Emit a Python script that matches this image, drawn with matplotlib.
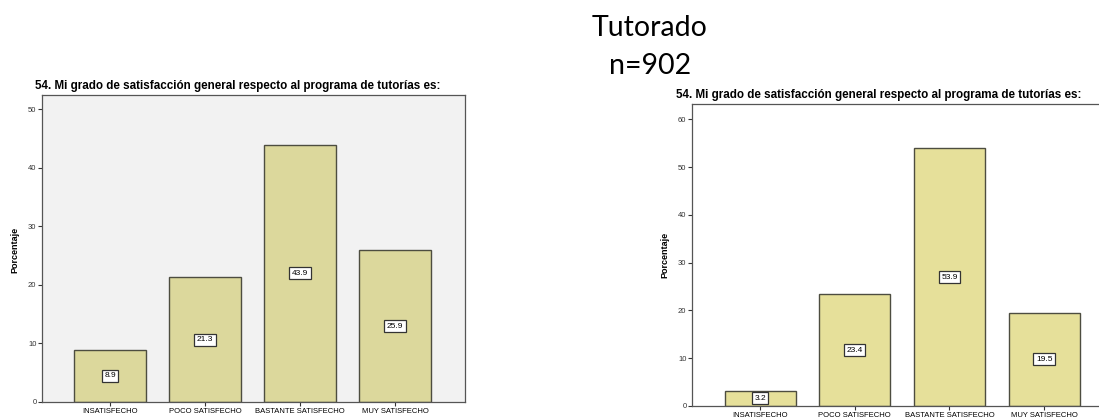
import matplotlib
matplotlib.use("Agg")
import matplotlib.pyplot as plt

categories = ["INSATISFECHO", "POCO SATISFECHO", "BASTANTE SATISFECHO", "MUY SATISFECHO"]
left_values = [8.9, 21.3, 43.9, 25.9]
right_values = [3.2, 23.4, 53.9, 19.5]
left_ticks = [0, 10, 20, 30, 40, 50]
right_ticks = [0, 10, 20, 30, 40, 50, 60]
chart_title = "54. Mi grado de satisfacción general respecto al programa de tutorías es:"
ylabel = "Porcentaje"

W, H = 1099, 420
fig = plt.figure(figsize=(W / 100, H / 100), dpi=100)
fig.patch.set_facecolor("white")

def px_axes(x0, y0, x1, y1):
    return fig.add_axes([x0 / W, 1 - y1 / H, (x1 - x0) / W, (y1 - y0) / H])

def draw(ax, values, ticks, ylim, xlim, face, barcolor, frame_all):
    x = list(range(len(categories)))
    ax.set_facecolor(face)
    ax.bar(x, values, width=0.75, color=barcolor, edgecolor="#4d4d40", linewidth=1.0, zorder=2)
    for xi, v in zip(x, values):
        ax.text(xi, v / 2, f"{v:.1f}", ha="center", va="center", fontsize=6,
                family="Liberation Sans", zorder=3,
                bbox=dict(boxstyle="square,pad=0.3", fc="white", ec="#333333", lw=0.9))
    ax.set_xlim(*xlim)
    ax.set_ylim(*ylim)
    ax.set_yticks(ticks)
    ax.set_yticklabels([str(t) for t in ticks], fontsize=5.5, family="Liberation Sans", color="#333333")
    ax.set_xticks(x)
    ax.set_xticklabels(categories, fontsize=5.5, family="Liberation Sans")
    ax.tick_params(axis="both", length=3, width=0.8, pad=1, color="#333333")
    for s in ax.spines.values():
        s.set_color("#555555")
        s.set_linewidth(0.9)
    if not frame_all:
        ax.spines["right"].set_visible(False)

# Left chart
axL = px_axes(42, 95, 465, 402)
draw(axL, left_values, left_ticks, (0, 52.4), (-0.716, 3.737), "#f2f2f2", "#dcd89c", True)
fig.text(35 / W, 1 - 86 / H, chart_title, fontsize=8.4, fontweight="bold",
         family="Liberation Sans", ha="left", va="center")
fig.text(15 / W, 1 - 250 / H, ylabel, fontsize=6.5, fontweight="bold", rotation=90,
         family="Liberation Sans", ha="center", va="center")

# Right chart
axR = px_axes(692, 104, 1099, 406)
draw(axR, right_values, right_ticks, (0, 63.2), (-0.72, 3.58), "white", "#e6e09a", False)
fig.text(676 / W, 1 - 95 / H, chart_title, fontsize=8.4, fontweight="bold",
         family="Liberation Sans", ha="left", va="center")
fig.text(665 / W, 1 - 255 / H, ylabel, fontsize=6.5, fontweight="bold", rotation=90,
         family="Liberation Sans", ha="center", va="center")

# Header
fig.text(650 / W, 1 - 28 / H, "Tutorado", fontsize=20.5, family="Lato", ha="center", va="center")
fig.text(650 / W, 1 - 66 / H, "n=902", fontsize=20.5, family="Lato", ha="center", va="center")

fig.savefig("out.png", dpi=100)
